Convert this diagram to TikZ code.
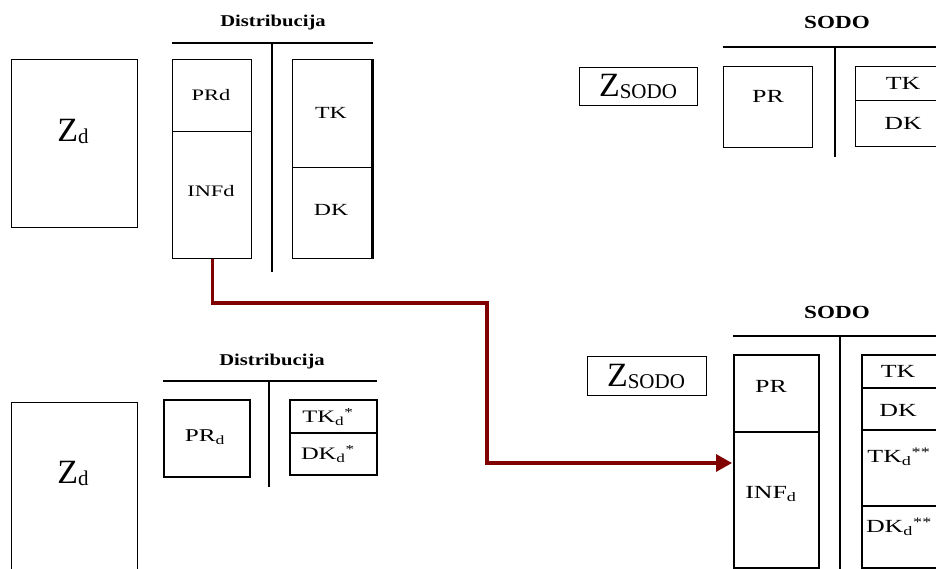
\documentclass[tikz,border=0pt]{standalone}
\usepackage{fontspec}
\setmainfont{Liberation Serif}
\usepackage{graphicx}
\usetikzlibrary{arrows.meta}
\definecolor{arrowred}{RGB}{128,0,0}
\tikzset{
  box/.style={draw, line width=1.3pt, inner sep=0pt, anchor=north west},
  thickbox/.style={box, line width=2.2pt},
  rulel/.style={line width=2.6pt},
  lbl/.style={inner sep=0pt, anchor=center},
  conn/.style={draw=arrowred, line width=3.2pt, -{Triangle[length=16pt,width=17pt]}, shorten >=1pt},
}
\newcommand\cellnode[6][box]{\node[#1, minimum width=#5pt, minimum height=#6pt] (#2) at (#3,#4) {};}
\newcommand\sm[2]{\fontsize{#1}{#1}\selectfont\scalebox{1.4}[1]{#2}}
\newcommand\ttl[2]{\fontsize{#1}{#1}\selectfont\bfseries\scalebox{1.25}[1]{#2}}
\newcommand\bigZ[1]{{\fontsize{34}{34}\selectfont Z}{\fontsize{21}{21}\selectfont\raisebox{-2pt}{#1}}}
\begin{document}
\begin{tikzpicture}[x=1pt,y=-1pt]
\useasboundingbox[fill=white] (0,0) rectangle (936,568);

% ---------- top left ----------
\cellnode{zd1}{11}{59}{126}{168}
\node[lbl] (zd1t) at (73,131) {\bigZ{d}};
\node[lbl] (dist1) at (273,23) {\ttl{16.5}{Distribucija}};
\draw[rulel] (172,43) -- (373,43);
\draw[rulel] (272,43) -- (272,272);
\cellnode{prd}{172}{59}{79}{72}
\cellnode{infd}{172}{131}{79}{127}
\cellnode{tk1}{292}{59}{79}{108}
\cellnode{dk1}{292}{167}{79}{91}
\draw[line width=3pt] (tk1.north east) -- (dk1.south east);
\node[lbl] (prdt) at (211,95) {\sm{16}{PRd}};
\node[lbl] (infdt) at (211,191) {\sm{16}{INFd}};
\node[lbl] (tk1t) at (331,113) {\sm{17}{TK}};
\node[lbl] (dk1t) at (331,210) {\sm{17}{DK}};

% ---------- top right ----------
\cellnode{zs1}{579}{67}{118}{38}
\node[lbl] (zs1t) at (638,86) {\bigZ{SODO}};
\node[lbl] (sodo1) at (837,22) {\ttl{18.5}{SODO}};
\draw[rulel] (723,47) -- (940,47);
\draw[rulel] (835,47) -- (835,157);
\cellnode{pr1}{723}{66}{89}{81}
\cellnode{tk2}{855}{66}{100}{34}
\cellnode{dk2}{855}{100}{100}{46}
\node[lbl] (pr1t) at (768,96) {\sm{18.5}{PR}};
\node[lbl] (tk2t) at (903,83) {\sm{18.5}{TK}};
\node[lbl] (dk2t) at (903,123) {\sm{18.5}{DK}};

% ---------- bottom left ----------
\cellnode{zd2}{11}{402}{126}{220}
\node[lbl] (zd2t) at (73,473) {\bigZ{d}};
\node[lbl] (dist2) at (272,362) {\ttl{16.5}{Distribucija}};
\draw[rulel] (163,381) -- (377,381);
\draw[rulel] (269,381) -- (269,487);
\cellnode[thickbox]{prd2}{163}{399}{86}{77}
\cellnode[thickbox]{tkd1}{289}{399}{87}{33}
\cellnode[thickbox]{dkd1}{289}{432}{87}{42}
\node[lbl] (prd2t) at (205,437) {\sm{18}{PR\textsubscript{d}}};
\node[lbl] (tkd1t) at (328,417) {\sm{17.5}{TK\textsubscript{d}\textsuperscript{*}}};
\node[lbl] (dkd1t) at (328,454) {\sm{17.5}{DK\textsubscript{d}\textsuperscript{*}}};

% ---------- bottom right ----------
\cellnode{zs2}{587}{356}{119}{39}
\node[lbl] (zs2t) at (646,376) {\bigZ{SODO}};
\node[lbl] (sodo2) at (837,312) {\ttl{18.5}{SODO}};
\draw[rulel] (733,336) -- (940,336);
\draw[rulel] (840,336) -- (840,580);
\cellnode[thickbox]{pr2}{733}{354}{85}{77}
\cellnode[thickbox]{inf2}{733}{431}{85}{136}
\cellnode[thickbox]{tk3}{861}{354}{100}{33}
\cellnode[thickbox]{dk3}{861}{387}{100}{42}
\cellnode[thickbox]{tkd2}{861}{429}{100}{76}
\cellnode[thickbox]{dkd2}{861}{505}{100}{62}
\node[lbl] (pr2t) at (771,386) {\sm{18.5}{PR}};
\node[lbl] (inf2t) at (771,494) {\sm{18.5}{INF\textsubscript{d}}};
\node[lbl] (tk3t) at (898,371) {\sm{18.5}{TK}};
\node[lbl] (dk3t) at (898,410) {\sm{18.5}{DK}};
\node[lbl] (tkd2t) at (899,457) {\sm{18.5}{TK\textsubscript{d}\textsuperscript{**}}};
\node[lbl] (dkd2t) at (899,527) {\sm{18.5}{DK\textsubscript{d}\textsuperscript{**}}};

% ---------- connector ----------
\coordinate (b1) at (487,303);
\coordinate (b2) at (487,463);
\draw[conn] (infd.south) |- (b1) -- (b2) -- (b2 -| inf2.west);
\end{tikzpicture}
\end{document}
